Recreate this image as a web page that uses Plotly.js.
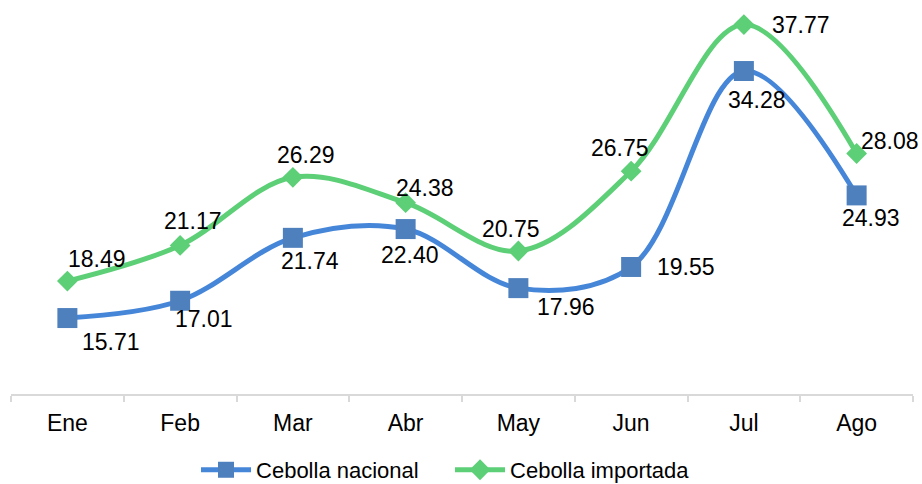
<!DOCTYPE html>
<html>
<head>
<meta charset="utf-8">
<script src="https://cdn.plot.ly/plotly-3.0.1.min.js"></script>
<style>html,body{margin:0;padding:0;background:#fff;}#chart{width:922px;height:484px;}</style>
</head>
<body>
<div id="chart"></div>
<script>
// Data
var months = ["Ene", "Feb", "Mar", "Abr", "May", "Jun", "Jul", "Ago"];
var nacional = [15.71, 17.01, 21.74, 22.40, 17.96, 19.55, 34.28, 24.93];
var importada = [18.49, 21.17, 26.29, 24.38, 20.75, 26.75, 37.77, 28.08];
var seriesNames = ["Cebolla nacional", "Cebolla importada"];

// Label offsets (pixels, styling only)
var nacOffX = [44, 24, 17, 4, 48, 55, 13, 14];
var nacOffY = [-24, -18, -23, -26, -19, 0, -29, -23];
var impOffX = [30, 13, 13, 19, -7, -11, 57, 33];
var impOffY = [22, 24, 22, 15, 22, 23, 0, 13];

var FONT = "Liberation Sans, Arial, sans-serif";
var FS = 23;

var traces = [
  {
    x: months, y: nacional, name: seriesNames[0], type: "scatter", mode: "lines+markers",
    line: {color: "#4686d8", width: 5, shape: "spline", smoothing: 1},
    marker: {symbol: "square", size: 20, color: "#4f80be"}
  },
  {
    x: months, y: importada, name: seriesNames[1], type: "scatter", mode: "lines+markers",
    line: {color: "#5ccf77", width: 5, shape: "spline", smoothing: 1},
    marker: {symbol: "diamond", size: 16, color: "#5ccf77"}
  }
];

var annotations = [];
months.forEach(function (m, i) {
  annotations.push({x: m, y: nacional[i], xref: "x", yref: "y", text: nacional[i].toFixed(2),
    showarrow: false, xshift: nacOffX[i], yshift: nacOffY[i], font: {family: FONT, size: FS, color: "#000"}});
  annotations.push({x: m, y: importada[i], xref: "x", yref: "y", text: importada[i].toFixed(2),
    showarrow: false, xshift: impOffX[i], yshift: impOffY[i], font: {family: FONT, size: FS, color: "#000"}});
});

var layout = {
  width: 922, height: 484,
  margin: {l: 11, r: 9, t: 0, b: 90, autoexpand: false},
  paper_bgcolor: "#fff", plot_bgcolor: "#fff",
  font: {family: FONT, size: FS, color: "#000"},
  showlegend: true,
  legend: {orientation: "h", x: 0.2126, xanchor: "left", xref: "container",
    y: 0.029, yanchor: "middle", yref: "container",
    font: {family: FONT, size: 22, color: "#000"}, itemwidth: 50, entrywidth: 189, tracegroupgap: 0},
  xaxis: {
    type: "category", range: [-0.5, 7.5], showgrid: false, zeroline: false,
    showline: true, linecolor: "#d9d9d9", linewidth: 2,
    ticks: "outside", tickson: "boundaries", ticklen: 6, tickcolor: "#d9d9d9", tickwidth: 2,
    ticklabelstandoff: 7,
    tickfont: {family: FONT, size: FS, color: "#000"}, fixedrange: true
  },
  yaxis: {
    range: [10, 39.62], showgrid: false, zeroline: false, showline: false,
    showticklabels: false, ticks: "", fixedrange: true
  },
  annotations: annotations
};

Plotly.newPlot("chart", traces, layout, {displayModeBar: false, staticPlot: true});
</script>
</body>
</html>
